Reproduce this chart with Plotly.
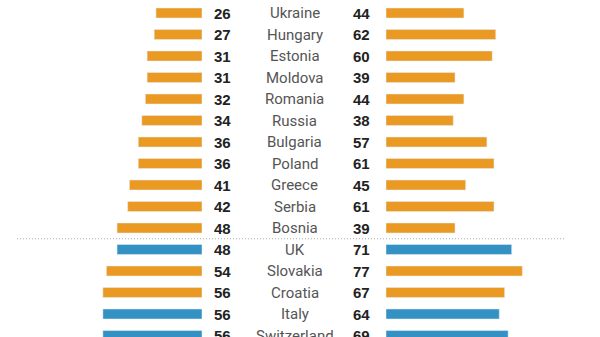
import plotly.graph_objects as go

# Country rows, top to bottom
countries = ["Ukraine", "Hungary", "Estonia", "Moldova", "Romania", "Russia",
             "Bulgaria", "Poland", "Greece", "Serbia", "Bosnia",
             "UK", "Slovakia", "Croatia", "Italy", "Switzerland"]
left_values = [26, 27, 31, 31, 32, 34, 36, 36, 41, 42, 48, 48, 54, 56, 56, 56]
right_values = [44, 62, 60, 39, 44, 38, 57, 61, 45, 61, 39, 71, 77, 67, 64, 69]
region = ["east"] * 11 + ["west", "east", "east", "west", "west"]

ORANGE = "#EA9A22"
BLUE = "#3391C3"
colors = [BLUE if r == "west" else ORANGE for r in region]
ypos = list(range(len(countries)))

W, H = 600, 337
px_per_unit = 1.77
left_zero = 202      # pixel where left bars start
right_zero = 386     # pixel where right bars start

fig = go.Figure()
fig.add_trace(go.Bar(x=left_values, y=ypos, orientation="h", marker_color=colors,
                     width=0.465, xaxis="x", yaxis="y", hoverinfo="skip"))
fig.add_trace(go.Bar(x=right_values, y=ypos, orientation="h", marker_color=colors,
                     width=0.465, xaxis="x2", yaxis="y", hoverinfo="skip"))

num_font = dict(family="Liberation Sans", size=15, color="#222222")
name_font = dict(family="Roboto", size=15, color="#555555")
ann = []
for i, (c, lv, rv) in enumerate(zip(countries, left_values, right_values)):
    ann.append(dict(x=222.5 / W, y=i, xref="paper", yref="y", text=f"<b>{lv}</b>",
                    showarrow=False, font=num_font, xanchor="center", yanchor="middle"))
    ann.append(dict(x=294.5 / W, y=i, xref="paper", yref="y", text=c,
                    showarrow=False, font=name_font, xanchor="center", yanchor="middle"))
    ann.append(dict(x=361 / W, y=i, xref="paper", yref="y", text=f"<b>{rv}</b>",
                    showarrow=False, font=num_font, xanchor="center", yanchor="middle"))

row0_px, row_step = 13, 21.5
y_top = -row0_px / row_step
y_bottom = (H - row0_px) / row_step

fig.update_layout(
    width=W, height=H,
    margin=dict(l=0, r=0, t=0, b=0),
    paper_bgcolor="white", plot_bgcolor="white",
    showlegend=False,
    xaxis=dict(domain=[0, left_zero / W], range=[left_zero / px_per_unit, 0],
               visible=False, fixedrange=True),
    xaxis2=dict(domain=[right_zero / W, 1], range=[0, (W - right_zero) / px_per_unit],
                visible=False, fixedrange=True),
    yaxis=dict(range=[y_bottom, y_top], visible=False, fixedrange=True),
    annotations=ann,
    shapes=[dict(type="line", xref="paper", yref="y", x0=17 / W, x1=565 / W,
                 y0=10.5, y1=10.5, line=dict(color="#AAAAAA", width=1, dash="1px,2px"))],
)

fig.write_html("out.html")
